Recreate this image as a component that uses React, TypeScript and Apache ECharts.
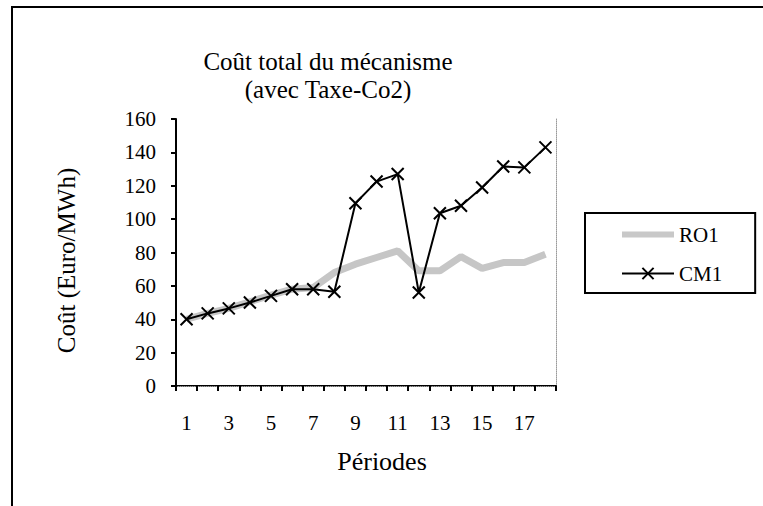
import React, { useEffect, useRef } from "react";
import * as echarts from "echarts";

const periods = ["1", "2", "3", "4", "5", "6", "7", "8", "9", "10", "11", "12", "13", "14", "15", "16", "17", "18"];
const ro1 = [40, 43.5, 46.5, 50.5, 54.5, 58, 59, 68, 73, 77, 81, 69, 69, 77.5, 70.5, 74, 74, 79];
const cm1 = [40, 43.5, 46.5, 50, 54, 58, 58, 56.5, 109.5, 122.5, 127, 56, 103.5, 108, 119, 131.5, 131, 143];
const yTicks = { min: 0, max: 160, interval: 20 };
const titleLines = ["Coût total du mécanisme", "(avec Taxe-Co2)"];
const xName = "Périodes";
const yName = "Coût (Euro/MWh)";
const seriesNames = ["RO1", "CM1"];

const FONT = "Times New Roman, Liberation Serif, serif";

export default function App() {
  const ref = useRef<HTMLDivElement>(null);
  useEffect(() => {
    if (!ref.current) return;
    const chart = echarts.init(ref.current, undefined, { renderer: "svg" });
    chart.setOption({
      animation: false,
      backgroundColor: "#ffffff",
      textStyle: { fontFamily: FONT },
      title: {
        text: titleLines.join("\n"),
        left: 323,
        top: 42,
        textAlign: "center",
        textStyle: { fontFamily: FONT, fontSize: 25, fontWeight: "normal", color: "#000", lineHeight: 28 },
      },
      legend: {
        orient: "vertical",
        left: 585,
        top: 213,
        padding: [11, 33, 9, 34],
        itemGap: 18,
        itemWidth: 52,
        itemHeight: 14,
        borderColor: "#000",
        borderWidth: 2,
        textStyle: { fontFamily: FONT, fontSize: 21, color: "#000" },
        data: [
          { name: seriesNames[0], itemStyle: { opacity: 0 }, lineStyle: { width: 6, color: "#c8c8c8" } },
          { name: seriesNames[1], lineStyle: { width: 2, color: "#000" } },
        ],
      },
      graphic: [
        {
          type: "rect",
          shape: { x: 12, y: 7, width: 800, height: 600 },
          style: { fill: "none", stroke: "#000", lineWidth: 2 },
          silent: true,
        },
      ],
      grid: { left: 176, top: 119, width: 380, height: 267 },
      xAxis: [
        {
          type: "category",
          data: periods,
          boundaryGap: true,
          name: xName,
          nameLocation: "middle",
          nameGap: 62,
          nameTextStyle: { fontFamily: FONT, fontSize: 26, color: "#000", padding: [0, 0, 0, 32] },
          axisLine: { show: true, lineStyle: { color: "#000", width: 2 } },
          axisTick: { show: true, interval: 0, length: 5, lineStyle: { color: "#000", width: 2 } },
          axisLabel: { interval: 1, margin: 26, fontFamily: FONT, fontSize: 21, color: "#000" },
          splitLine: { show: false },
        },
        {
          type: "category",
          data: periods,
          position: "top",
          axisLine: { show: true, lineStyle: { color: "#999", width: 1, type: "dotted" } },
          axisTick: { show: false },
          axisLabel: { show: false },
          splitLine: { show: false },
        },
      ],
      yAxis: [
        {
          type: "value",
          min: yTicks.min,
          max: yTicks.max,
          interval: yTicks.interval,
          name: yName,
          nameLocation: "middle",
          nameRotate: 90,
          nameGap: 97,
          nameTextStyle: { fontFamily: FONT, fontSize: 25, color: "#000", padding: [0, 16, 0, 0] },
          axisLine: { show: true, lineStyle: { color: "#000", width: 2 } },
          axisTick: { show: true, length: 5, lineStyle: { color: "#000", width: 2 } },
          axisLabel: { margin: 20, fontFamily: FONT, fontSize: 21, color: "#000" },
          splitLine: { show: false },
        },
        {
          type: "value",
          min: yTicks.min,
          max: yTicks.max,
          interval: yTicks.interval,
          position: "right",
          axisLine: { show: true, lineStyle: { color: "#999", width: 1, type: "dotted" } },
          axisTick: { show: false },
          axisLabel: { show: false },
          splitLine: { show: false },
        },
      ],
      series: [
        {
          name: seriesNames[0],
          type: "line",
          data: ro1,
          symbol: "none",
          lineStyle: { color: "#c6c6c6", width: 7 },
          itemStyle: { color: "#c6c6c6" },
          z: 2,
        },
        {
          name: seriesNames[1],
          type: "line",
          data: cm1,
          symbol: "path://M0,0L10,10M0,10L10,0",
          symbolSize: 12,
          lineStyle: { color: "#000", width: 2 },
          itemStyle: { color: "#000", borderColor: "#000", borderWidth: 2 },
          z: 3,
        },
      ],
    });
    return () => chart.dispose();
  }, []);
  return (
    <div
      ref={ref}
      style={{ position: "absolute", left: 0, top: 0, width: 763, height: 506 }}
    />
  );
}
